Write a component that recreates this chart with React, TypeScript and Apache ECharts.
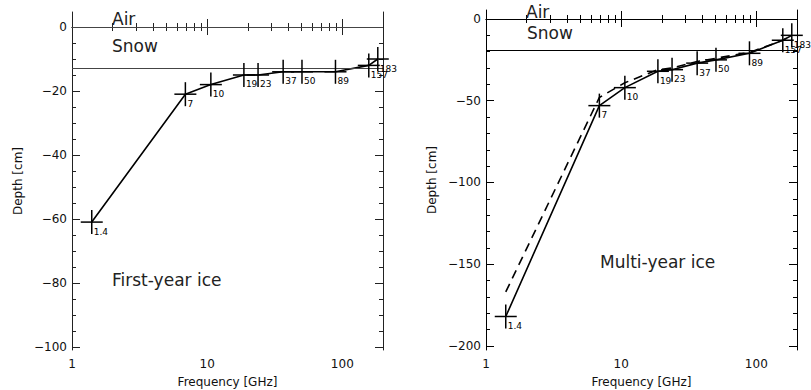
import React, { useEffect, useRef } from "react";
import * as echarts from "echarts";

// Frequencies (GHz) and their channel labels
const freqs = [1.4, 6.9, 10.65, 18.7, 23.8, 36.5, 50.3, 89, 157, 183];
const freqLabels = ["1.4", "7", "10", "19", "23", "37", "50", "89", "157", "183"];

// First-year ice penetration depth (cm)
const fyDepth = [-61, -21, -18, -15, -15, -14, -14, -14, -12, -10];
// Multi-year ice penetration depth (cm), solid and dashed
const myDepth = [-182, -53, -42, -32, -31, -27, -25, -21, -13, -10];
const myDepthDashed = [-167, -48, -39, -31, -30, -26, -24, -20.5, -13, -10];

// Interface depths (cm)
const fyInterfaces = [0, -13];
const myInterfaces = [0, -19];

// Axis ticks
const xMajorTicks = [1, 10, 100];
const xMinorTicks = [2, 3, 4, 5, 6, 7, 8, 9, 20, 30, 40, 50, 60, 70, 80, 90];
const fyYMajor = [0, -20, -40, -60, -80, -100];
const fyYMinor = [0, -5, -10, -15, -20, -25, -30, -35, -40, -45, -50, -55, -60, -65, -70, -75, -80, -85, -90, -95, -100];
const myYMajor = [0, -50, -100, -150, -200];
const myYMinor = [0, -10, -20, -30, -40, -50, -60, -70, -80, -90, -100, -110, -120, -130, -140, -150, -160, -170, -180, -190, -200];

const FONT = "DejaVu Sans";

const fmtY = (v: number) => (v < 0 ? "\u2212" + Math.abs(v) : String(v));

function xAxes(grid: number, color: string) {
  const base = {
    type: "log" as const,
    logBase: 10,
    min: 1,
    max: 200,
    gridIndex: grid,
    splitLine: { show: false },
  };
  return [
    {
      ...base,
      position: "bottom",
      axisLine: { show: true, lineStyle: { color, width: 1 } },
      axisTick: { show: true, inside: true, length: 8, customValues: xMajorTicks, lineStyle: { color } },
      axisLabel: { show: true, customValues: xMajorTicks, fontFamily: FONT, fontSize: 12, color: "#111", margin: 8 },
      name: "Frequency [GHz]",
      nameLocation: "middle",
      nameGap: 26,
      nameTextStyle: { fontFamily: FONT, fontSize: 12, color: "#111" },
    },
    {
      ...base,
      position: "bottom",
      axisLine: { show: false },
      axisTick: { show: true, inside: true, length: 4, customValues: xMinorTicks, lineStyle: { color } },
      axisLabel: { show: false },
    },
    {
      ...base,
      position: "top",
      axisLine: { show: true, lineStyle: { color, width: 1 } },
      axisTick: { show: true, inside: true, length: 8, customValues: xMajorTicks, lineStyle: { color } },
      axisLabel: { show: false },
    },
    {
      ...base,
      position: "top",
      axisLine: { show: false },
      axisTick: { show: true, inside: true, length: 4, customValues: xMinorTicks, lineStyle: { color } },
      axisLabel: { show: false },
    },
  ];
}

function yAxes(grid: number, min: number, max: number, major: number[], minor: number[], color: string) {
  const base = {
    type: "value" as const,
    min,
    max,
    gridIndex: grid,
    splitLine: { show: false },
  };
  return [
    {
      ...base,
      position: "left",
      axisLine: { show: true, lineStyle: { color, width: 1 } },
      axisTick: { show: true, inside: true, length: 8, customValues: major, lineStyle: { color } },
      axisLabel: { show: true, customValues: major, formatter: fmtY, fontFamily: FONT, fontSize: 12, color: "#111", margin: 5 },
      name: "Depth [cm]",
      nameLocation: "middle",
      nameRotate: 90,
      nameGap: 48,
      nameTextStyle: { fontFamily: FONT, fontSize: 12, color: "#111" },
    },
    {
      ...base,
      position: "left",
      axisLine: { show: false },
      axisTick: { show: true, inside: true, length: 4, customValues: minor, lineStyle: { color } },
      axisLabel: { show: false },
    },
    {
      ...base,
      position: "right",
      axisLine: { show: true, lineStyle: { color, width: 1 } },
      axisTick: { show: true, inside: true, length: 8, customValues: major, lineStyle: { color } },
      axisLabel: { show: false },
    },
    {
      ...base,
      position: "right",
      axisLine: { show: false },
      axisTick: { show: true, inside: true, length: 4, customValues: minor, lineStyle: { color } },
      axisLabel: { show: false },
    },
  ];
}

function crossSeries(xi: number, yi: number, depth: number[]) {
  return {
    type: "custom",
    xAxisIndex: xi,
    yAxisIndex: yi,
    z: 5,
    clip: false,
    data: freqs.map((f, i) => [f, depth[i], i]),
    renderItem: (_params: any, api: any) => {
      const p = api.coord([api.value(0), api.value(1)]);
      const idx = api.value(2);
      const st = { stroke: "#000", lineWidth: 1.5 };
      return {
        type: "group",
        children: [
          { type: "line", shape: { x1: p[0] - 11, y1: p[1], x2: p[0] + 11, y2: p[1] }, style: st },
          { type: "line", shape: { x1: p[0], y1: p[1] - 12, x2: p[0], y2: p[1] + 12 }, style: st },
          {
            type: "text",
            x: p[0] + 2,
            y: p[1] + 5,
            style: {
              text: freqLabels[idx],
              fontFamily: FONT,
              fontSize: 9,
              fill: "#000",
              align: "left",
              verticalAlign: "top",
            },
          },
        ],
      };
    },
  };
}

function lineSeries(xi: number, yi: number, depth: number[], dashed: boolean, interfaces: number[] | null, ifColor: string) {
  const s: any = {
    type: "line",
    xAxisIndex: xi,
    yAxisIndex: yi,
    data: freqs.map((f, i) => [f, depth[i]]),
    symbol: "none",
    z: 4,
    lineStyle: { color: "#000", width: 1.6, type: dashed ? [9, 6] : "solid" },
  };
  if (interfaces) {
    s.markLine = {
      silent: true,
      symbol: ["none", "none"],
      label: { show: false },
      lineStyle: { color: ifColor, width: 1, type: "solid" },
      data: interfaces.map((v) => ({ yAxis: v })),
    };
  }
  return s;
}

function annot(x: number, y: number, text: string) {
  return {
    type: "text",
    x,
    y,
    z: 10,
    style: { text, fontFamily: FONT, fontSize: 17, fill: "#222", align: "left", verticalAlign: "middle" },
  };
}

export default function App() {
  const ref = useRef<HTMLDivElement>(null);
  useEffect(() => {
    if (!ref.current) return;
    const chart = echarts.init(ref.current, undefined, { renderer: "svg" });
    const option: any = {
      animation: false,
      backgroundColor: "#fff",
      grid: [
        { left: 72, top: 12, width: 311, height: 338, outerBoundsMode: "none", containLabel: false },
        { left: 486, top: 10, width: 311, height: 340, outerBoundsMode: "none", containLabel: false },
      ],
      xAxis: [...xAxes(0, "#222"), ...xAxes(1, "#000")],
      yAxis: [
        ...yAxes(0, -101, 4.7, fyYMajor, fyYMinor, "#222"),
        ...yAxes(1, -202.5, 5.5, myYMajor, myYMinor, "#000"),
      ],
      series: [
        lineSeries(0, 0, fyDepth, false, fyInterfaces, "#444"),
        crossSeries(0, 0, fyDepth),
        lineSeries(4, 4, myDepth, false, myInterfaces, "#000"),
        lineSeries(4, 4, myDepthDashed, true, null, "#000"),
        crossSeries(4, 4, myDepth),
      ],
      graphic: [
        annot(112, 18.5, "Air"),
        annot(112, 46, "Snow"),
        annot(112, 279.5, "First-year ice"),
        annot(526, 12, "Air"),
        annot(527, 33, "Snow"),
        annot(600, 261.5, "Multi-year ice"),
      ],
    };
    chart.setOption(option);
    return () => chart.dispose();
  }, []);
  return <div ref={ref} style={{ position: "fixed", left: 0, top: 0, width: 811, height: 390 }} />;
}
